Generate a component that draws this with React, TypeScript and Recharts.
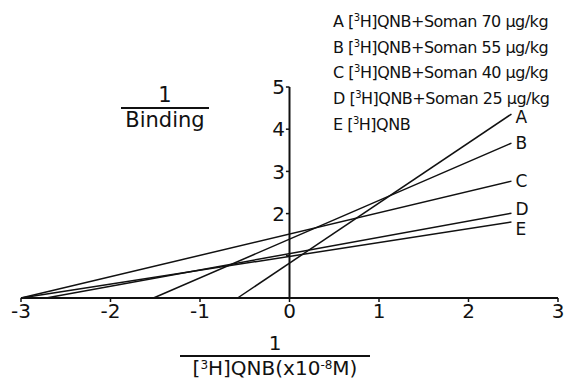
import { LineChart, Line, XAxis, YAxis, ReferenceLine } from "recharts";

// double-reciprocal plot, one straight line per group
const names = ["A", "B", "C", "D", "E"];
const xStart = [-0.58, -1.52, -3.0, -2.72, -3.0];
const xEnd = [2.48, 2.48, 2.48, 2.48, 2.48];
const yEnd = [4.36, 3.67, 2.77, 2.01, 1.8];
const legendDose = ["70 μg/kg", "55 μg/kg", "40 μg/kg", "25 μg/kg", ""];
const xTicks = [-3, -2, -1, 0, 1, 2, 3];
const yTicks = [1, 2, 3, 4, 5];
const yLabelled = [2, 3, 4, 5];

const labelDy = [3, 0, 0, -4, 7];
const FONT = "'DejaVu Sans', sans-serif";

const series = names.map((n, i) => ({
  name: n,
  points: [
    { x: xStart[i], y: 0 },
    { x: xEnd[i], y: yEnd[i] },
  ],
}));

function EndLabel(props: any, i: number) {
  const { x, y, index } = props;
  if (index !== 1) return null;
  return (
    <text key={`lbl-${i}`} x={x + 4} y={y + labelDy[i]} dy={6} fontSize={17} fontFamily={FONT} fill="#111">
      {names[i]}
    </text>
  );
}

const supStyle = { fontSize: 10, position: "relative" as const, top: -6, verticalAlign: "baseline", lineHeight: 0 };

export default function App() {
  return (
    <div style={{ position: "absolute", left: 0, top: 0, width: 565, height: 388, background: "#fff", fontFamily: FONT, color: "#111" }}>
      <LineChart width={565} height={388} margin={{ top: 87, right: 7, bottom: 60, left: 21 }}>
        <XAxis
          type="number"
          dataKey="x"
          domain={[-3, 3]}
          ticks={xTicks}
          allowDuplicatedCategory={false}
          height={30}
          axisLine={{ stroke: "#111", strokeWidth: 2 }}
          tickLine={{ stroke: "#111", strokeWidth: 1.5 }}
          tickSize={4}
          tick={{ fontSize: 20, fill: "#111", fontFamily: FONT }}
        />
        <YAxis hide type="number" dataKey="y" domain={[0, 5]} />
        <ReferenceLine
          segment={[
            { x: 0, y: 0 },
            { x: 0, y: 5 },
          ]}
          ifOverflow="visible"
          stroke="#111"
          strokeWidth={2}
        />
        {yTicks.map((v) => (
          <ReferenceLine
            key={v}
            segment={[
              { x: -0.04, y: v },
              { x: 0, y: v },
            ]}
            stroke="#111"
            strokeWidth={1.5}
            label={
              yLabelled.includes(v)
                ? { value: String(v), position: "left", offset: 1, fontSize: 20, fill: "#111", fontFamily: FONT }
                : undefined
            }
          />
        ))}
        {series.map((s, i) => (
          <Line
            key={s.name}
            data={s.points}
            dataKey="y"
            stroke="#111"
            strokeWidth={1.5}
            dot={false}
            isAnimationActive={false}
            label={(p: any) => EndLabel(p, i)}
          />
        ))}
      </LineChart>

      {/* y title */}
      <div style={{ position: "absolute", left: 121, top: 84, width: 88, textAlign: "center", fontSize: 21, lineHeight: "22px" }}>
        <div style={{ borderBottom: "2px solid #111", paddingBottom: 1 }}>1</div>
        <div>Binding</div>
      </div>

      {/* x title */}
      <div style={{ position: "absolute", left: 180, top: 332, width: 190, textAlign: "center", fontSize: 20, lineHeight: "22px" }}>
        <div style={{ borderBottom: "2px solid #111", paddingBottom: 1 }}>1</div>
        <div style={{ whiteSpace: "nowrap" }}>
          [<span style={{ ...supStyle, fontSize: 12 }}>3</span>H]QNB(x10<span style={{ ...supStyle, fontSize: 12 }}>-8</span>M)
        </div>
      </div>

      {/* legend */}
      <div style={{ position: "absolute", left: 333, top: 13, fontSize: 16, lineHeight: "18px", whiteSpace: "nowrap", letterSpacing: -0.5 }}>
        {names.map((n, i) => (
          <div key={n} style={{ marginBottom: 7.7 }}>
            {n} [<span style={supStyle}>3</span>H]QNB{legendDose[i] ? `+Soman ${legendDose[i]}` : ""}
          </div>
        ))}
      </div>
    </div>
  );
}
